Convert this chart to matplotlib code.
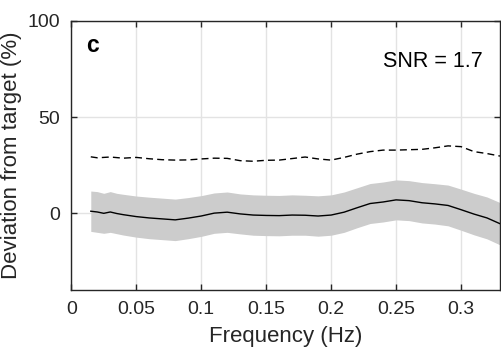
import numpy as np
import matplotlib
matplotlib.use("Agg")
import matplotlib.pyplot as plt

plt.rcParams['font.family'] = ['Liberation Sans', 'DejaVu Sans']

# frequency samples (Hz)
freq = [0.015, 0.02, 0.025, 0.03, 0.035, 0.04, 0.05, 0.06, 0.07, 0.08, 0.09,
        0.10, 0.11, 0.12, 0.13, 0.14, 0.15, 0.16, 0.17, 0.18, 0.19, 0.20,
        0.21, 0.22, 0.23, 0.24, 0.25, 0.26, 0.27, 0.28, 0.29, 0.30, 0.31,
        0.32, 0.33]
# mean deviation (%)
mean_dev = [1.0, 0.6, -0.1, 0.6, -0.2, -0.8, -1.8, -2.5, -3.0, -3.5, -2.6,
            -1.5, 0.0, 0.5, -0.4, -1.0, -1.2, -1.3, -1.0, -1.1, -1.5, -1.0,
            0.5, 2.8, 5.0, 5.8, 6.9, 6.5, 5.4, 4.8, 4.0, 1.8, -0.5,
            -2.5, -5.5]
# half width of shaded band (%)
spread = [10.5, 10.6, 10.4, 10.6, 10.5, 10.6, 10.7, 10.8, 10.8, 10.8, 10.7,
          10.6, 10.5, 10.5, 10.4, 10.5, 10.5, 10.5, 10.5, 10.4, 10.5, 10.5,
          10.5, 10.4, 10.4, 10.4, 10.4, 10.4, 10.5, 10.5, 10.6, 10.7, 10.8,
          10.9, 11.0]
# dashed curve (%)
dashed = [29.3, 28.8, 29.0, 29.2, 28.9, 28.6, 29.0, 28.3, 27.8, 27.6, 27.7,
          28.2, 28.6, 28.5, 27.3, 27.0, 27.5, 27.6, 28.4, 29.2, 28.2, 27.6,
          29.0, 30.7, 32.0, 32.8, 32.8, 33.0, 33.2, 34.0, 35.0, 34.6, 32.0,
          31.0, 29.7]

xticks = [0, 0.05, 0.1, 0.15, 0.2, 0.25, 0.3]
xticklabels = ['0', '0.05', '0.1', '0.15', '0.2', '0.25', '0.3']
yticks = [0, 50, 100]

f = np.array(freq)
m = np.array(mean_dev)
s = np.array(spread)

fig = plt.figure(figsize=(5.01, 3.56), dpi=100)
ax = fig.add_axes([0.1423, 0.1854, 0.8557, 0.7557])

ax.fill_between(f, m - s, m + s, color='#cccccc', linewidth=0, zorder=2)
ax.plot(f, m, color='black', linewidth=1.0, zorder=3)
ax.plot(f, dashed, color='black', linewidth=1.0, linestyle=(0, (5, 3)), zorder=3)

ax.set_xlim(0, 0.33)
ax.set_ylim(-40, 100)
ax.set_xticks(xticks)
ax.set_xticklabels(xticklabels)
ax.set_yticks(yticks)
ax.grid(True, color='#e3e3e3', linewidth=1.0, zorder=0)
ax.set_axisbelow(True)

ax.tick_params(direction='in', length=4, width=1, colors='#262626',
               labelsize=14, top=True, right=True, pad=8)
for lab in ax.get_xticklabels() + ax.get_yticklabels():
    lab.set_color('#262626')
for sp in ax.spines.values():
    sp.set_color('#262626')
    sp.set_linewidth(1.0)

ax.set_xlabel('Frequency (Hz)', fontsize=16, color='#262626', labelpad=6)
ax.set_ylabel('Deviation from target (%)', fontsize=16, color='#262626', labelpad=4)

ax.text(0.034, 0.885, 'c', transform=ax.transAxes, fontsize=16.5,
        fontweight='bold', color='black')
ax.text(0.960, 0.828, 'SNR = 1.7', transform=ax.transAxes, fontsize=15.5,
        ha='right', color='black')

fig.savefig('out.png', dpi=100)
